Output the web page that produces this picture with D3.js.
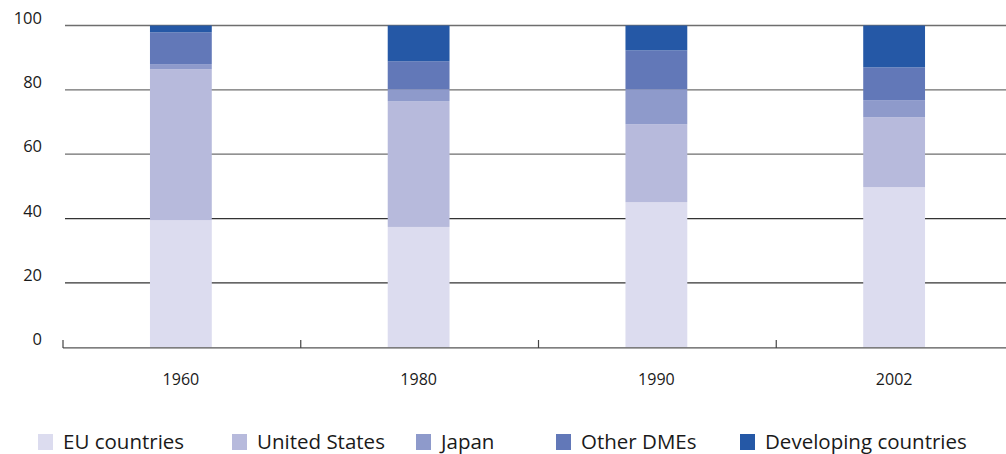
<!DOCTYPE html>
<html>
<head>
<meta charset="utf-8">
<script src="https://cdn.jsdelivr.net/npm/d3@7"></script>
<style>
  html, body { margin: 0; padding: 0; background: #fff; }
  svg { display: block; }
  text { font-family: "Open Sans", "Noto Sans", sans-serif; fill: #1a1a1a; }
</style>
</head>
<body>
<svg id="chart" width="1006" height="454"></svg>
<script>
const years = ["1960", "1980", "1990", "2002"];
const seriesNames = ["EU countries", "United States", "Japan", "Other DMEs", "Developing countries"];
const euCountries = [39.5, 37.4, 45.1, 49.8];
const unitedStates = [46.9, 39.1, 24.2, 21.7];
const japan = [1.6, 3.7, 10.9, 5.3];
const otherDMEs = [9.9, 8.7, 12.1, 10.2];
const developing = [2.1, 11.1, 7.7, 13.0];
const yTicks = [0, 20, 40, 60, 80, 100];
const colors = ["#dcdcef", "#b7badc", "#8e9acb", "#6278b8", "#2558a6"];

const seriesValues = [euCountries, unitedStates, japan, otherDMEs, developing];
const keys = seriesNames;
const table = years.map((y, i) => {
  const row = { year: y };
  keys.forEach((k, j) => row[k] = seriesValues[j][i]);
  return row;
});

const svg = d3.select("#chart");
const x = d3.scaleBand().domain(years).range([62, 1013]).paddingInner(0.74).paddingOuter(0.37);
const y = d3.scaleLinear().domain([0, 100]).range([347.3, 25.5]);
const color = d3.scaleOrdinal().domain(keys).range(colors);

// gridlines
svg.append("g")
  .selectAll("line")
  .data(yTicks.filter(d => d > 0))
  .join("line")
  .attr("x1", 65).attr("x2", 1006)
  .attr("y1", d => y(d)).attr("y2", d => y(d))
  .attr("stroke", d => d >= 60 ? "#6e6e6e" : "#333")
  .attr("stroke-width", 1.3);

// y labels
svg.append("g")
  .selectAll("text")
  .data(yTicks)
  .join("text")
  .attr("x", 42)
  .attr("y", d => y(d) - 2)
  .attr("text-anchor", "end")
  .attr("font-size", 16.5)
  .text(d => d);

// bars
const stacked = d3.stack().keys(keys)(table);
svg.append("g")
  .selectAll("g")
  .data(stacked)
  .join("g")
  .attr("fill", d => color(d.key))
  .selectAll("rect")
  .data(d => d)
  .join("rect")
  .attr("x", d => x(d.data.year))
  .attr("width", x.bandwidth())
  .attr("y", d => y(d[1]))
  .attr("height", d => y(d[0]) - y(d[1]));

// x axis
const step = x.step();
const axisG = svg.append("g");
axisG.append("line")
  .attr("x1", 63).attr("x2", 1006)
  .attr("y1", 347.8).attr("y2", 347.8)
  .attr("stroke", "#555").attr("stroke-width", 1.3);
const tickXs = years.map((yr, i) => x(yr) + x.bandwidth() / 2 - step / 2 + 1);
axisG.selectAll("line.tick")
  .data(tickXs)
  .join("line")
  .attr("class", "tick")
  .attr("x1", d => d).attr("x2", d => d)
  .attr("y1", 340).attr("y2", 348)
  .attr("stroke", "#444").attr("stroke-width", 1.2);
axisG.selectAll("text")
  .data(years)
  .join("text")
  .attr("x", d => x(d) + x.bandwidth() / 2)
  .attr("y", 385)
  .attr("text-anchor", "middle")
  .attr("font-size", 16)
  .text(d => d);

// legend
const legendX = [38, 232, 416, 556, 740];
const lg = svg.append("g");
keys.forEach((k, i) => {
  lg.append("rect")
    .attr("x", legendX[i]).attr("y", 434)
    .attr("width", 15).attr("height", 16)
    .attr("fill", color(k));
  lg.append("text")
    .attr("x", legendX[i] + 25).attr("y", 449)
    .attr("font-size", 20.5)
    .text(k);
});
</script>
</body>
</html>
